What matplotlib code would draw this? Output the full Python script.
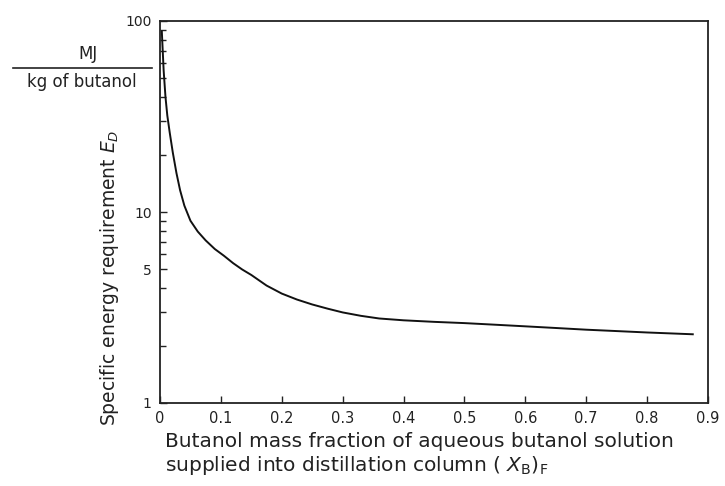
import matplotlib
matplotlib.use("Agg")
import matplotlib.pyplot as plt
from matplotlib.lines import Line2D
from matplotlib.ticker import FixedLocator, NullFormatter

# Data
xb = [0.003, 0.006, 0.009, 0.012, 0.016, 0.021, 0.027, 0.033, 0.040, 0.050,
      0.062, 0.075, 0.090, 0.105, 0.120, 0.135, 0.150, 0.175, 0.200, 0.225,
      0.250, 0.275, 0.300, 0.330, 0.360, 0.400, 0.450, 0.500, 0.550, 0.600,
      0.650, 0.700, 0.750, 0.800, 0.875]
ed = [88, 55, 40, 32, 26, 20.5, 16.0, 13.0, 10.8, 9.0,
      7.9, 7.1, 6.4, 5.9, 5.4, 5.0, 4.68, 4.12, 3.74, 3.48,
      3.28, 3.12, 2.98, 2.86, 2.77, 2.71, 2.66, 2.62, 2.57, 2.52,
      2.47, 2.42, 2.38, 2.34, 2.29]

xticks = [0, 0.1, 0.2, 0.3, 0.4, 0.5, 0.6, 0.7, 0.8, 0.9]
xticklabels = ["0", "0.1", "0.2", "0.3", "0.4", "0.5", "0.6", "0.7", "0.8", "0.9"]
yticks = [1, 5, 10, 100]
yticklabels = ["1", "5", "10", "100"]
yminor = [2, 3, 4, 6, 7, 8, 9, 20, 30, 40, 50, 60, 70, 80, 90]

plt.rcParams['font.family'] = ['DejaVu Sans']

fig = plt.figure(figsize=(7.25, 4.86), dpi=100)
ax = fig.add_axes([160/725, 1 - 403/486, (708 - 160)/725, (403 - 21)/486])

ax.plot(xb, ed, color="#111111", lw=1.4)

ax.set_yscale("log")
ax.set_xlim(0, 0.9)
ax.set_ylim(1, 100)

ax.xaxis.set_major_locator(FixedLocator(xticks))
ax.set_xticklabels(xticklabels, fontsize=10.5, color="#222222")
ax.yaxis.set_major_locator(FixedLocator(yticks))
ax.set_yticklabels(yticklabels, fontsize=10, color="#222222")
ax.yaxis.set_minor_locator(FixedLocator(yminor))
ax.yaxis.set_minor_formatter(NullFormatter())

ax.tick_params(axis="both", which="major", direction="in", length=5, width=1,
               color="#222222", pad=6)
ax.tick_params(axis="y", which="minor", direction="in", length=4, width=1,
               color="#222222")
ax.tick_params(axis="x", which="minor", bottom=False)
for s in ax.spines.values():
    s.set_linewidth(1.3)
    s.set_color("#222222")

# Y label
fig.text(110/725, 1 - 278/486, "Specific energy requirement $E_D$",
         rotation=90, ha="center", va="center", fontsize=13.5, color="#222222")

# Units fraction
fig.text(88/725, 1 - 54/486, "MJ", ha="center", va="center", fontsize=12,
         color="#222222")
fig.lines.append(Line2D([13/725, 152/725], [1 - 68/486, 1 - 68/486],
                        transform=fig.transFigure, color="#222222", lw=1.2))
fig.text(82/725, 1 - 82/486, "kg of butanol", ha="center", va="center",
         fontsize=12, color="#222222")

# X label
fig.text(165/725, 1 - 441/486, "Butanol mass fraction of aqueous butanol solution",
         ha="left", va="center", fontsize=14.5, color="#222222")
fig.text(165/725, 1 - 465/486, r"supplied into distillation column ( $X_\mathrm{B}$)$_\mathrm{F}$",
         ha="left", va="center", fontsize=14.5, color="#222222")

fig.savefig("out.png", dpi=100)
